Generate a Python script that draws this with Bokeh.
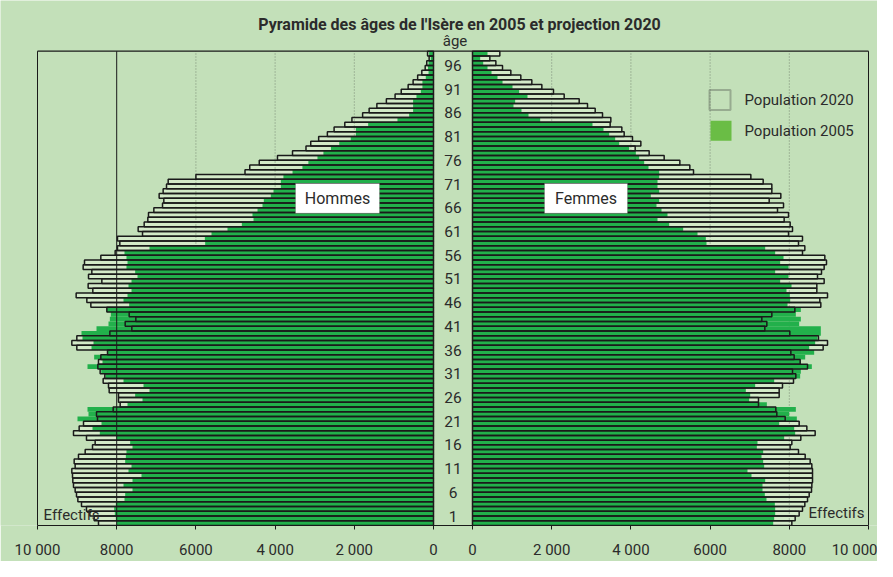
import numpy as np
from bokeh.plotting import figure
from bokeh.models import (ColumnDataSource, LinearAxis, FixedTicker, Label, BoxAnnotation, Range1d)
from bokeh.core.properties import value
from bokeh.embed import file_html
from bokeh.resources import INLINE

# ---------------- data (ages 0..99) ----------------
ages = list(range(100))
men_2020 = [8460, 8569, 8678, 8763, 8889, 8981, 9015, 9049, 9091, 9108,
            9116, 9133, 9049, 9074, 8965, 8796, 8611, 8544, 8763, 9091,
            8948, 8838, 8485, 8510, 8089, 7912, 7955, 7955, 8190, 8207,
            8342, 8300, 8418, 8476, 8460, 8401, 8232, 9007, 9133, 9007,
            8173, 7618, 7786, 7517, 7685, 8249, 8653, 8754, 9024, 8603,
            8721, 8375, 8712, 8628, 8847, 8813, 8401, 8039, 7980, 7921,
            7980, 7348, 7458, 7306, 7214, 7197, 7062, 6843, 6810, 6928,
            6827, 6742, 6700, 6000, 4760, 4640, 4400, 3940, 3560, 3220,
            3100, 2900, 2680, 2510, 2240, 2060, 1790, 1625, 1430, 1190,
            970, 815, 640, 515, 400, 295, 210, 170, 110, 150]
men_2005 = [8005, 8022, 8047, 8064, 8022, 7803, 7786, 7601, 7828, 7601,
            7374, 7702, 7626, 7786, 7769, 7753, 7601, 7660, 8005, 8426,
            8611, 8384, 8990, 8712, 8737, 7727, 7348, 7534, 7172, 7323,
            7828, 8280, 8390, 8737, 8359, 8569, 8232, 8636, 8586, 8864,
            8889, 8510, 8207, 8173, 8148, 8249, 7685, 7828, 7727, 7626,
            7702, 7626, 7475, 7534, 7753, 7727, 7753, 7803, 7172, 5766,
            5774, 5606, 5202, 4840, 4545, 4571, 4444, 4318, 4285, 4108,
            4040, 3855, 3855, 3790, 3560, 3310, 3160, 2930, 2780, 2590,
            2380, 2090, 1960, 1960, 1650, 910, 615, 515, 515, 515,
            430, 320, 280, 280, 195, 125, 140, 125, 70, 110]
women_2020 = [8064, 8148, 8249, 8333, 8392, 8460, 8502, 8561, 8569, 8586,
              8586, 8586, 8569, 8527, 8401, 8232, 8022, 8064, 8291, 8653,
              8443, 8249, 7896, 7685, 7660, 7222, 7222, 7744, 7744, 7828,
              8106, 8165, 8081, 8460, 8274, 8123, 8039, 8855, 8965, 8737,
              8013, 7382, 7433, 7306, 7559, 8140, 8796, 8771, 8965, 8695,
              8695, 8880, 8712, 8813, 8880, 8939, 8897, 8333, 8392, 8232,
              8333, 7980, 8081, 8022, 7870, 7980, 7702, 7854, 7492, 7786,
              7559, 7559, 7340, 7029, 5581, 5488, 5236, 4840, 4461, 4108,
              4251, 4040, 3830, 3771, 3476, 3493, 3283, 3098, 2904, 2694,
              2315, 2045, 1751, 1498, 1220, 968, 758, 590, 438, 690]
women_2005 = [7593, 7618, 7643, 7643, 7635, 7424, 7382, 7323, 7323, 7391,
              7045, 6944, 7365, 7340, 7298, 7340, 7180, 7197, 7870, 8148,
              8123, 7744, 8190, 7997, 8165, 7433, 6987, 7012, 6902, 7138,
              7618, 8274, 8291, 8569, 8291, 8401, 8628, 8502, 8653, 8712,
              8796, 8796, 8249, 8291, 8165, 8291, 7955, 8022, 8013, 7929,
              8056, 7769, 7980, 7643, 7980, 7769, 7854, 7643, 7391, 5909,
              5892, 5682, 5320, 4966, 4672, 4924, 4773, 4646, 4714, 4503,
              4714, 4672, 4672, 4714, 4714, 4444, 4335, 4209, 4125, 3956,
              3704, 3603, 3451, 3308, 3030, 1709, 1414, 1237, 1035, 1077,
              1389, 1178, 1010, 758, 631, 480, 379, 270, 194, 379]
age_labels = [1, 6, 11, 16, 21, 26, 31, 36, 41, 46, 51, 56, 61, 66, 71, 76, 81, 86, 91, 96]
tick_values = [0, 2000, 4000, 6000, 8000, 10000]
tick_texts = {0: "0", 2000: "2 000", 4000: "4 000", 6000: "6000", 8000: "8000", 10000: "10 000"}
legend_labels = ["Population 2020", "Population 2005"]

# ---------------- layout constants ----------------
W, H = 877, 561
PX = 0.0396          # pixels per person
ROW = 4.77           # pixels per age row
X0 = 441             # page x of men's zero
YB = 536             # page y of the bottom axis
GAP = 985            # offset of the women's zero (people units)
FONT = "Roboto"
BG = "#c3e0b9"
GREEN = "#22b04b"
LIGHT = "#d3eac8"
DARK = "#1a1a1a"
TXT = "#2b2b2b"


def ux(px):
    return (px - X0) / PX


def uy(py):
    return (YB - py) / ROW


NAGE = len(ages)

p = figure(width=W, height=H, output_backend="svg", toolbar_location=None,
           x_range=Range1d(ux(8), ux(8 + W)), y_range=Range1d(0, uy(8)),
           x_axis_location=None, y_axis_location=None,
           min_border_left=0, min_border_right=0, min_border_top=0,
           min_border_bottom=H - (YB - 8))
p.background_fill_color = BG
p.border_fill_color = BG
p.outline_line_color = None
p.grid.visible = False

a = np.array(ages, dtype=float)
m20 = np.array(men_2020, dtype=float)
m05 = np.array(men_2005, dtype=float)
w20 = np.array(women_2020, dtype=float)
w05 = np.array(women_2005, dtype=float)

src = ColumnDataSource(dict(
    y=a + 0.5,
    m20_l=-m20, m05_l=-m05, zero=np.zeros(NAGE),
    wz=np.full(NAGE, GAP, dtype=float), w20_r=GAP + w20, w05_r=GAP + w05,
))

# 2020 fills
p.hbar(y="y", height=1, left="m20_l", right="zero", source=src,
       fill_color=LIGHT, line_color=None)
p.hbar(y="y", height=1, left="wz", right="w20_r", source=src,
       fill_color=LIGHT, line_color=None)

# grid lines (dotted)
tv = np.array(tick_values, dtype=float)
men_dotted = -tv[[0, 1, 2, 3]]
wom_dotted = GAP + tv[[1, 2, 3, 4]]
gx = np.concatenate([men_dotted, wom_dotted])
p.segment(x0=gx, y0=np.zeros(len(gx)), x1=gx, y1=np.full(len(gx), NAGE),
          line_color="#7a8a76", line_width=1, line_dash="1 2")

# 2005 bars
p.hbar(y="y", height=1, left="m05_l", right="zero", source=src,
       fill_color=GREEN, line_color=None)
p.hbar(y="y", height=1, left="wz", right="w05_r", source=src,
       fill_color=GREEN, line_color=None)

# 2020 outlines
p.hbar(y="y", height=1, left="m20_l", right="zero", source=src,
       fill_color=None, line_color=DARK, line_width=1.5)
p.hbar(y="y", height=1, left="wz", right="w20_r", source=src,
       fill_color=None, line_color=DARK, line_width=1.5)

# frame lines
fx = np.array([-tv[5], -tv[4], GAP + tv[5]])
p.segment(x0=fx, y0=np.zeros(3), x1=fx, y1=np.full(3, NAGE), line_color=DARK, line_width=1)
p.segment(x0=[-tv[5]], y0=[NAGE], x1=[GAP + tv[5]], y1=[NAGE], line_color=DARK, line_width=1.2)

# axis
ticks = [int(-t) for t in tick_values] + [int(GAP + t) for t in tick_values]
overrides = {}
for t in tick_values:
    overrides[int(-t)] = tick_texts[t]
    overrides[int(GAP + t)] = tick_texts[t]
ax = LinearAxis(ticker=FixedTicker(ticks=ticks), major_label_overrides=overrides,
                bounds=(-tick_values[-1], GAP + tick_values[-1]),
                axis_line_color=DARK, axis_line_width=1.2,
                major_tick_line_color=DARK, major_tick_in=0, major_tick_out=4,
                minor_tick_line_color=None, major_label_standoff=11,
                major_label_text_font=FONT, major_label_text_font_size="15px",
                major_label_text_color=TXT)
p.add_layout(ax, "below")

# age labels
p.text(x=[ux(460.5)] * len(age_labels), y=[v + 1.0 for v in age_labels],
       text=[str(v) for v in age_labels], text_font=value(FONT), text_font_size="15.5px",
       text_color=TXT, text_align="center", text_baseline="middle")

p.add_layout(Label(x=ux(462.5), y=uy(49), text="âge", text_font=FONT, text_font_size="15px",
                   text_color=TXT, text_align="center", text_baseline="middle"))
p.add_layout(Label(x=ux(467), y=uy(32), text="Pyramide des âges de l'Isère en 2005 et projection 2020",
                   text_font=FONT, text_font_size="16px", text_font_style="bold",
                   text_color=TXT, text_align="center", text_baseline="middle"))
p.add_layout(Label(x=ux(51), y=uy(525), text="Effectifs", text_font=FONT, text_font_size="15px",
                   text_color=TXT, text_align="left", text_baseline="middle"))
p.add_layout(Label(x=ux(872), y=uy(523), text="Effectifs", text_font=FONT, text_font_size="15px",
                   text_color=TXT, text_align="right", text_baseline="middle"))

# Hommes / Femmes boxes
for l, r, txt in [(303, 387, "Hommes"), (552, 635, "Femmes")]:
    p.add_layout(BoxAnnotation(left=ux(l), right=ux(r), top=uy(192), bottom=uy(222),
                               fill_color="white", fill_alpha=1, line_color="#555555", line_width=1))
    p.add_layout(Label(x=ux((l + r) / 2), y=uy(207), text=txt, text_font=FONT, text_font_size="16px",
                       text_color=TXT, text_align="center", text_baseline="middle"))

# legend (drawn as annotations)
p.add_layout(BoxAnnotation(left=ux(717), right=ux(738), top=uy(98), bottom=uy(118),
                           fill_alpha=0, line_color="#333333", line_width=2))
p.add_layout(BoxAnnotation(left=ux(718), right=ux(739), top=uy(129), bottom=uy(149),
                           fill_color="#6abd45", fill_alpha=1, line_color=None))
for lbl, cy in zip(legend_labels, [108, 139]):
    p.add_layout(Label(x=ux(752), y=uy(cy), text=lbl, text_font=FONT, text_font_size="15px",
                       text_color=TXT, text_align="left", text_baseline="middle"))

open("out.html", "w").write(file_html(p, INLINE))
